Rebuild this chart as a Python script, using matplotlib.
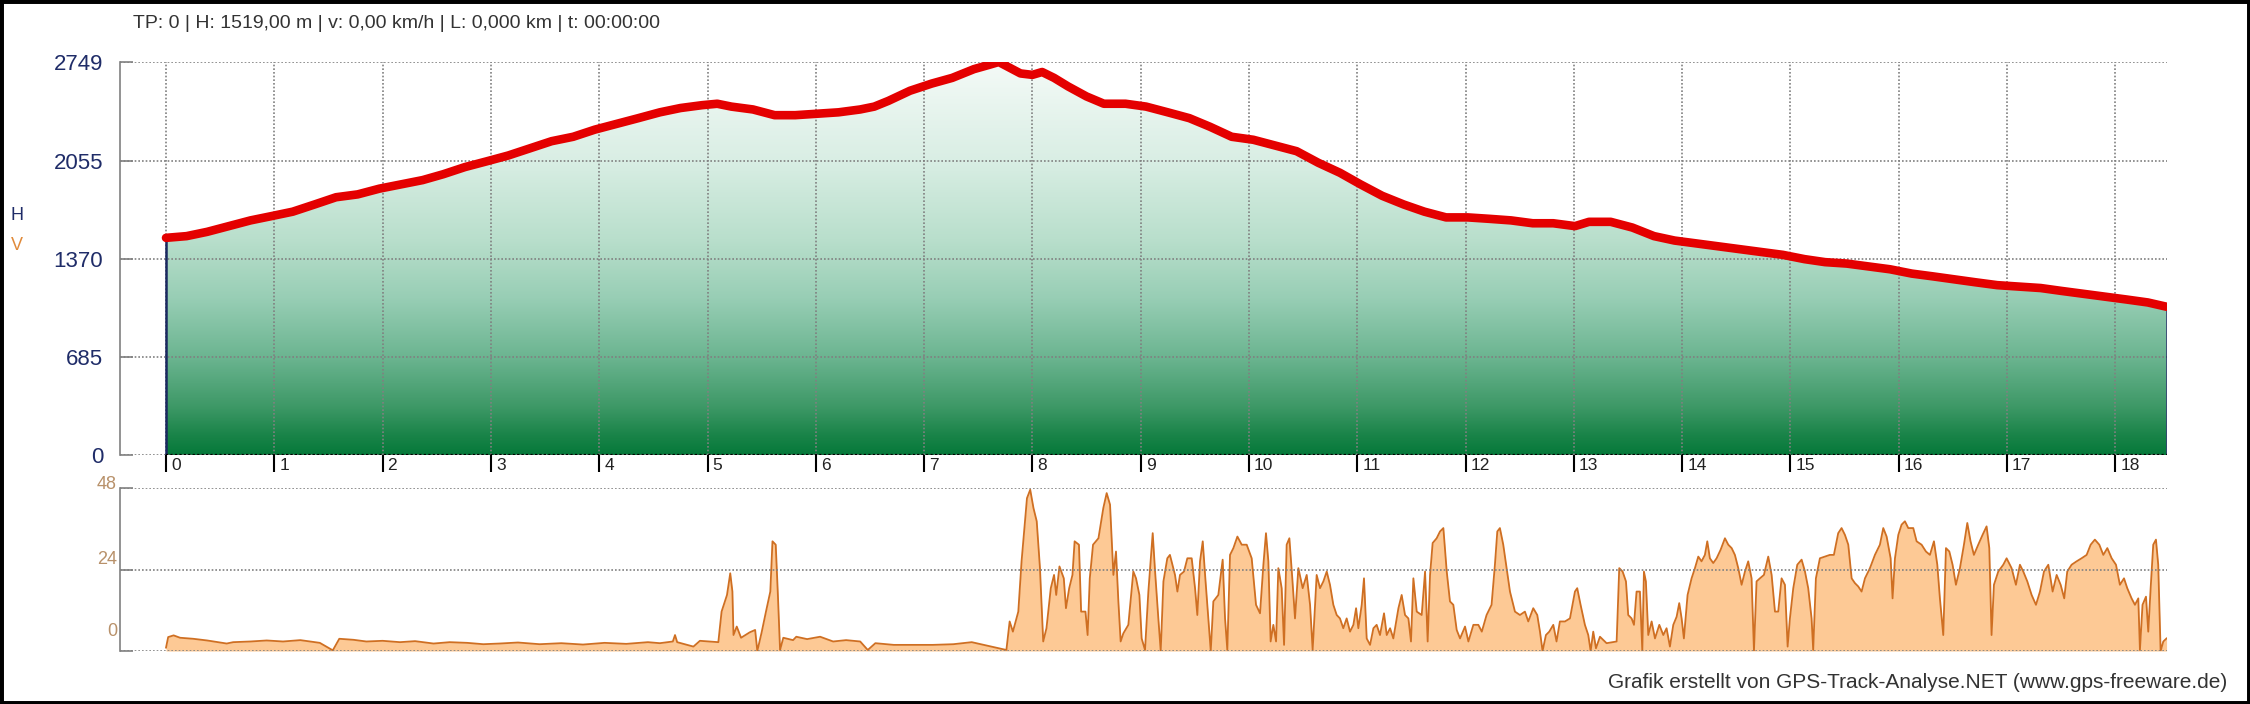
import numpy as np
from matplotlib import pyplot as plt
from matplotlib import transforms
from matplotlib.colors import LinearSegmentedColormap
from matplotlib.patches import Rectangle

plt.rcParams['font.family'] = ['Liberation Sans', 'DejaVu Sans']

# height profile: distance in km, height in m
dist_km = [0.00, 0.19, 0.38, 0.58, 0.78, 0.98, 1.17, 1.37, 1.57, 1.77, 1.97, 2.17, 2.37,
           2.56, 2.76, 2.96, 3.16, 3.36, 3.56, 3.76, 3.96, 4.16, 4.36, 4.56, 4.75, 4.95,
           5.09, 5.22, 5.42, 5.62, 5.81, 6.01, 6.21, 6.41, 6.54, 6.67, 6.87, 7.07, 7.26,
           7.46, 7.60, 7.69, 7.79, 7.89, 8.00, 8.09, 8.20, 8.33, 8.50, 8.66, 8.86, 9.05,
           9.25, 9.45, 9.64, 9.84, 10.04, 10.24, 10.44, 10.64, 10.84, 11.03, 11.23, 11.43,
           11.62, 11.82, 12.02, 12.22, 12.42, 12.62, 12.81, 13.01, 13.14, 13.34, 13.54,
           13.74, 13.93, 14.13, 14.33, 14.53, 14.73, 14.93, 15.13, 15.32, 15.52, 15.72,
           15.92, 16.12, 16.32, 16.51, 16.71, 16.91, 17.11, 17.31, 17.50, 17.70, 17.90,
           18.10, 18.30, 18.473]
elev_m = [1519, 1531, 1561, 1601, 1641, 1672, 1702, 1752, 1803, 1823, 1863, 1893, 1923,
          1964, 2014, 2054, 2095, 2145, 2195, 2226, 2276, 2316, 2356, 2397, 2427, 2447,
          2457, 2437, 2417, 2377, 2377, 2387, 2397, 2417, 2437, 2477, 2548, 2598, 2638,
          2699, 2729, 2749, 2709, 2669, 2659, 2679, 2638, 2578, 2508, 2457, 2457, 2437,
          2397, 2356, 2296, 2226, 2205, 2165, 2125, 2044, 1974, 1893, 1813, 1752,
          1702, 1662, 1662, 1652, 1641, 1621, 1621, 1601, 1631, 1631, 1591,
          1531, 1500, 1480, 1460, 1440, 1420, 1400, 1370, 1349, 1339, 1319,
          1299, 1269, 1249, 1229, 1208, 1188, 1178, 1168, 1148, 1128, 1108,
          1088, 1067, 1037]

# speed: distance in km, speed in km/h
speed_km = [0.00, 0.02, 0.07, 0.13, 0.25, 0.38, 0.56, 0.62, 0.78, 0.93, 1.08, 1.24, 1.42,
            1.54, 1.60, 1.73, 1.85, 2.00, 2.16, 2.30, 2.47, 2.62, 2.78, 2.93, 3.08, 3.25,
            3.45, 3.65, 3.85, 4.05, 4.25, 4.45, 4.56, 4.68, 4.70, 4.72, 4.87, 4.93, 5.10,
            5.13, 5.18, 5.21, 5.23, 5.24, 5.27, 5.31, 5.39, 5.44, 5.46, 5.50, 5.54, 5.58,
            5.60, 5.63, 5.65, 5.67, 5.70, 5.79, 5.82, 5.92, 6.04, 6.16, 6.28, 6.41, 6.48,
            6.55, 6.72, 6.90, 7.08, 7.27, 7.44, 7.58, 7.76, 7.79, 7.82, 7.87, 7.90, 7.95,
            7.98, 8.01, 8.04, 8.07, 8.10, 8.13, 8.17, 8.20, 8.22, 8.25, 8.29, 8.31, 8.34,
            8.37, 8.39, 8.43, 8.45, 8.49, 8.51, 8.53, 8.56, 8.61, 8.655, 8.686, 8.717,
            8.748, 8.772, 8.794, 8.815, 8.84, 8.886, 8.932, 8.957, 8.988, 9.009, 9.04,
            9.071, 9.111, 9.133, 9.163, 9.185, 9.21, 9.246, 9.27, 9.317, 9.339, 9.363,
            9.40, 9.431, 9.471, 9.502, 9.523, 9.548, 9.573, 9.597, 9.625, 9.647, 9.671,
            9.717, 9.757, 9.779, 9.80, 9.825, 9.856, 9.893, 9.933, 9.979, 10.025, 10.065,
            10.102, 10.133, 10.157, 10.179, 10.20, 10.225, 10.25, 10.271, 10.302, 10.324,
            10.348, 10.373, 10.40, 10.425, 10.456, 10.496, 10.533, 10.564, 10.588, 10.625,
            10.656, 10.687, 10.718, 10.748, 10.779, 10.81, 10.84, 10.871, 10.902, 10.933,
            10.964, 10.989, 11.01, 11.041, 11.062, 11.087, 11.118, 11.149, 11.179, 11.21,
            11.247, 11.272, 11.303, 11.333, 11.38, 11.41, 11.441, 11.472, 11.496, 11.518,
            11.549, 11.595, 11.626, 11.65, 11.672, 11.696, 11.733, 11.764, 11.795, 11.826,
            11.856, 11.887, 11.918, 11.949, 11.995, 12.026, 12.072, 12.118, 12.15, 12.194,
            12.24, 12.271, 12.293, 12.317, 12.348, 12.379, 12.41, 12.456, 12.502, 12.548,
            12.579, 12.625, 12.662, 12.687, 12.711, 12.742, 12.773, 12.81, 12.84, 12.871,
            12.918, 12.964, 13.01, 13.031, 13.062, 13.102, 13.133, 13.155, 13.179, 13.204,
            13.241, 13.302, 13.395, 13.419, 13.45, 13.481, 13.502, 13.533, 13.555, 13.579,
            13.61, 13.632, 13.647, 13.665, 13.687, 13.718, 13.749, 13.789, 13.826, 13.856,
            13.887, 13.918, 13.949, 13.973, 13.995, 14.016, 14.05, 14.087, 14.118, 14.149,
            14.179, 14.21, 14.232, 14.256, 14.287, 14.318, 14.355, 14.395, 14.426, 14.457,
            14.487, 14.518, 14.549, 14.58, 14.61, 14.641, 14.663, 14.687, 14.718, 14.755,
            14.795, 14.826, 14.857, 14.887, 14.918, 14.949, 14.974, 14.995, 15.026, 15.063,
            15.103, 15.134, 15.164, 15.195, 15.21, 15.235, 15.272, 15.318, 15.364, 15.401,
            15.441, 15.472, 15.503, 15.534, 15.565, 15.595, 15.626, 15.657, 15.688, 15.734,
            15.78, 15.826, 15.857, 15.888, 15.925, 15.943, 15.965, 15.996, 16.026, 16.057,
            16.088, 16.134, 16.165, 16.211, 16.251, 16.288, 16.325, 16.356, 16.38, 16.411,
            16.436, 16.467, 16.497, 16.528, 16.565, 16.602, 16.633, 16.663, 16.694, 16.734,
            16.774, 16.811, 16.836, 16.857, 16.879, 16.919, 16.965, 16.996, 17.042, 17.082,
            17.119, 17.15, 17.187, 17.227, 17.267, 17.304, 17.341, 17.381, 17.421, 17.458,
            17.495, 17.528, 17.556, 17.596, 17.642, 17.688, 17.735, 17.772, 17.811, 17.852,
            17.889, 17.926, 17.966, 18.006, 18.042, 18.08, 18.11, 18.15, 18.181, 18.212,
            18.227, 18.251, 18.283, 18.304, 18.326, 18.35, 18.375, 18.396, 18.418, 18.443,
            18.473]
speed_kmh = [1.0, 4.1, 4.6, 3.9, 3.6, 3.1, 2.2, 2.6, 2.8, 3.1, 2.8, 3.2, 2.4,
             0.2, 3.6, 3.3, 2.8, 3.0, 2.6, 2.9, 2.2, 2.6, 2.4, 2.0, 2.2, 2.5,
             2.0, 2.3, 1.9, 2.4, 2.1, 2.6, 2.3, 2.8, 4.7, 2.6, 1.3, 3.0, 2.6,
             11.6, 16.5, 22.9, 17.5, 4.7, 7.2, 3.9, 5.5, 6.2, 0.0, 5.5, 11.6, 17.5,
             32.3, 31.3, 16.5, 0.3, 3.9, 3.2, 4.2, 3.5, 4.2, 2.8, 3.2, 2.8, 0.3,
             2.3, 1.8, 1.8, 1.8, 2.0, 2.6, 1.6, 0.3, 8.7, 5.7, 11.6, 26.4, 45.0,
             47.5, 42.1, 38.2, 24.4, 2.8, 6.7, 18.5, 22.4, 16.5, 24.9, 21.4, 12.6, 18.5,
             22.4, 32.3, 31.3, 11.6, 11.6, 4.7, 21.4, 31.3, 33.2, 42.1, 46.5, 43.1,
             22.4, 29.3, 14.6, 2.8, 5.2, 7.7, 23.4, 21.4, 16.5, 3.7, 0.3,
             17.5, 34.7, 23.4, 9.6, 0.0, 20.5, 27.3, 28.3, 22.4, 17.5, 22.4,
             23.4, 27.3, 27.3, 18.5, 10.6, 26.4, 32.3, 21.4, 9.6, 0.0, 14.6,
             16.5, 26.9, 9.6, 0.3, 28.3, 30.3, 33.7, 31.3, 31.3, 27.3, 13.6,
             11.1, 25.4, 34.7, 26.4, 2.8, 7.7, 2.8, 24.4, 18.5, 1.8,
             31.3, 33.2, 21.4, 9.6, 24.4, 18.5, 22.4, 13.6, 0.3, 22.4,
             18.5, 20.5, 23.4, 19.5, 13.6, 10.6, 9.6, 6.7, 9.6, 5.7,
             7.7, 12.6, 6.7, 13.6, 21.4, 3.7, 1.8, 6.7, 7.7, 4.7,
             11.1, 4.7, 6.7, 3.7, 12.6, 16.5, 10.6, 9.6, 2.8, 21.4,
             11.6, 10.6, 23.4, 2.8, 22.4, 31.8, 33.2, 35.2, 36.2, 23.4,
             14.6, 13.6, 6.2, 3.7, 7.2, 2.8, 7.7, 7.7, 5.7, 10.6,
             13.6, 25.4, 35.2, 36.2, 31.3, 24.4, 17.5, 11.6, 10.6, 11.6,
             8.7, 12.6, 10.6, 5.7, 0.0, 4.7, 5.7, 7.7, 2.8, 8.7,
             8.7, 9.6, 17.5, 18.5, 13.6, 7.7, 4.7, 0.0, 5.7, 0.8,
             4.2, 2.3, 2.8, 24.4, 23.4, 20.5, 10.6, 9.6, 7.7, 17.5,
             17.5, 0.0, 23.4, 20.5, 4.7, 8.7, 3.7, 7.7, 4.7, 6.7,
             1.3, 7.7, 10.1, 14.1, 9.6, 3.7, 16.5, 21.4, 24.4, 27.8,
             26.4, 28.3, 32.3, 27.3, 25.9, 27.3, 29.8, 33.2, 31.3, 30.3,
             28.3, 24.4, 19.5, 23.4, 26.4, 21.4, 0.0, 20.5, 21.4, 22.4,
             27.8, 22.4, 11.6, 11.6, 21.4, 19.5, 1.3, 9.6, 18.5, 25.4,
             26.9, 23.4, 18.5, 9.6, 0.3, 21.4, 27.3, 27.8, 28.3, 28.3,
             34.7, 36.2, 34.2, 31.3, 21.4, 20.0, 19.0, 17.5, 21.4, 24.4,
             28.3, 31.3, 36.2, 33.7, 27.3, 15.5, 27.3, 34.2, 37.2, 38.2,
             36.2, 36.2, 32.3, 31.3, 29.3, 28.3, 32.3, 25.4, 15.5, 4.7,
             30.3, 29.3, 25.4, 19.5, 24.4, 31.3, 37.7, 32.3, 28.3, 31.3,
             34.2, 36.7, 30.3, 4.7, 19.5, 23.4, 25.4, 27.3, 24.4, 19.5,
             25.4, 23.4, 20.5, 16.5, 13.6, 17.5, 23.4, 25.4, 17.5, 22.4,
             19.5, 15.5, 23.4, 25.4, 26.4, 27.3, 28.3, 31.3, 32.8, 31.3,
             28.3, 30.3, 27.3, 25.4, 19.5, 21.4, 18.5, 15.5, 13.6, 15.5,
             0.3, 13.6, 16.0, 5.7, 18.5, 31.3, 32.8, 25.4, 0.0, 2.8,
             3.7]

km_ticks = list(range(19))
h_ticks = [0, 685, 1370, 2055, 2749]
v_ticks = [0, 24, 48]
header = "TP: 0 | H: 1519,00 m | v: 0,00 km/h | L: 0,000 km | t: 00:00:00"
footer = "Grafik erstellt von GPS-Track-Analyse.NET (www.gps-freeware.de)"

W, H = 2250, 704
fig = plt.figure(figsize=(W / 100, H / 100), dpi=100)
fig.patch.set_facecolor('white')


def px_axes(left, top, right, bottom):
    # axes from pixel box of the picture
    return fig.add_axes([left / W, 1 - bottom / H, (right - left) / W, (bottom - top) / H])


xmin, xmax = -0.425, 18.477
grid_kw = dict(color='#808080', linestyle=(0, (1, 1.2)), linewidth=1.2)
navy = '#1f2c68'

# ---------------- height profile ----------------
ax = px_axes(120, 62, 2167, 455)

green = LinearSegmentedColormap.from_list('hgrad', [
    (0.0, '#06793a'), (0.05, '#1a8449'), (0.12, '#3d9866'), (0.25, '#6cb591'),
    (0.40, '#98ceb5'), (0.55, '#b9dfcc'), (0.75, '#d9eee4'), (1.0, '#f4faf7')])
grad = np.linspace(0, 1, 256).reshape(-1, 1)
im = ax.imshow(grad, cmap=green, origin='lower', aspect='auto',
               extent=(dist_km[0], dist_km[-1], 0, h_ticks[-1]), zorder=1)
fb = ax.fill_between(dist_km, elev_m, 0, facecolor='none', edgecolor='none')
im.set_clip_path(fb.get_paths()[0], transform=ax.transData)

ax.vlines([dist_km[0], dist_km[-1]], 0, [elev_m[0], elev_m[-1]], color='#1a2860', lw=1.8, zorder=2.6)
ax.hlines(0, dist_km[0], dist_km[-1], colors='black', linestyles=(0, (1, 1)), lw=1.6, zorder=2.7)
ax.plot(dist_km, elev_m, color='#e40000', lw=6.2, solid_capstyle='round', zorder=4)

ax.set_xlim(xmin, xmax)
ax.set_ylim(0, h_ticks[-1])
ax.set_xticks(km_ticks)
ax.set_yticks(h_ticks)
ax.set_axisbelow(False)
ax.grid(True, **grid_kw)
for s in ['top', 'right', 'bottom']:
    ax.spines[s].set_visible(False)
ax.spines['left'].set_color('#808080')
ax.spines['left'].set_linewidth(1.2)
ax.tick_params(axis='y', direction='in', length=9.5, width=1.2, color='#808080',
               pad=12, labelsize=16, labelcolor=navy)
ax.tick_params(axis='x', direction='out', length=12, width=1.5, color='black', labelbottom=False)

# km labels sit right of the tick bars
lab_tr = transforms.offset_copy(transforms.blended_transform_factory(ax.transData, ax.transAxes),
                                fig=fig, x=5, y=-11, units='dots')
for k in km_ticks:
    ax.text(k, 0, str(k), transform=lab_tr, ha='left', va='center', fontsize=12.5, color='#222222')

# ---------------- speed ----------------
ax2 = px_axes(120, 488, 2167, 651)
ax2.fill_between(speed_km, speed_kmh, 0, color='#fdc995', lw=0, zorder=1)
ax2.plot(speed_km, speed_kmh, color='#cf6f22', lw=1.3, zorder=2)
ax2.set_xlim(xmin, xmax)
ax2.set_ylim(0, 48)
ax2.set_xticks([])
ax2.set_yticks(v_ticks)
ax2.set_yticklabels([])
ax2.set_axisbelow(False)
ax2.grid(True, axis='y', **grid_kw)
for s in ['top', 'right', 'bottom']:
    ax2.spines[s].set_visible(False)
ax2.spines['left'].set_color('#808080')
ax2.spines['left'].set_linewidth(1.2)
ax2.tick_params(axis='y', direction='in', length=9.5, width=1.2, color='#808080')

# the speed labels are drawn a bit above their lines
v_shift_px = [19, 10, 3]
for v, sh in zip(v_ticks, v_shift_px):
    tr = transforms.offset_copy(transforms.blended_transform_factory(ax2.transAxes, ax2.transData),
                                fig=fig, x=-3, y=sh, units='dots')
    ax2.text(0, v, str(v), transform=tr, ha='right', va='center', fontsize=13, color='#b8916a')

# ---------------- texts and frame ----------------
fig.text(17 / W, 1 - 215 / H, 'H', ha='center', va='center', fontsize=13, color=navy)
fig.text(17 / W, 1 - 245 / H, 'V', ha='center', va='center', fontsize=13, color='#e08a3a')
fig.text(133 / W, 1 - 24 / H, header, ha='left', va='center', fontsize=14, color='#333333')
fig.text(2227 / W, 1 - 682 / H, footer, ha='right', va='center', fontsize=15, color='#333333')
fig.add_artist(Rectangle((0, 0), 1, 1, transform=fig.transFigure, fill=False,
                         edgecolor='black', linewidth=5))

fig.savefig('out.png', dpi=100)
